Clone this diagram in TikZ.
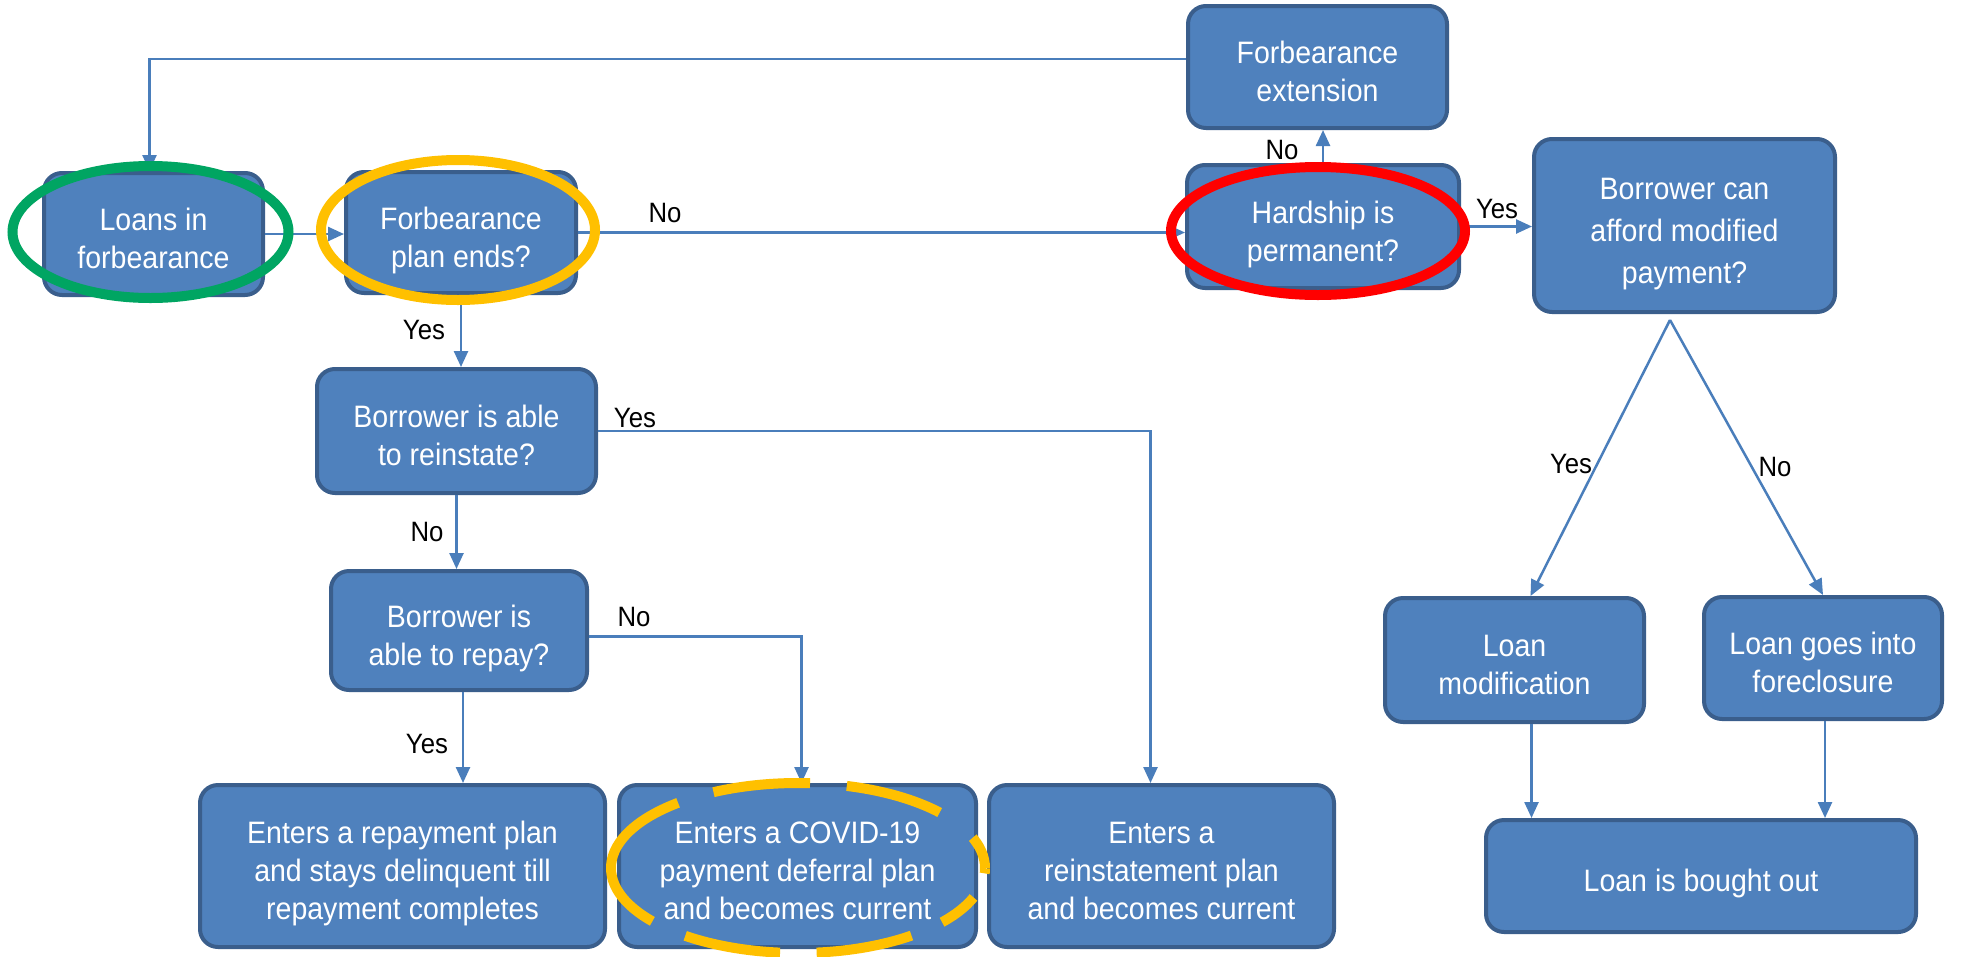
\documentclass[tikz,border=0pt]{standalone}
\usepackage{fontspec}
\setmainfont{Liberation Sans}[FakeStretch=0.92]
\usetikzlibrary{arrows.meta}
\definecolor{boxfill}{HTML}{4F81BD}
\definecolor{boxline}{HTML}{3A5E8C}
\definecolor{arrcol}{HTML}{4A7EBB}
\definecolor{hlgreen}{HTML}{00A562}
\definecolor{hlorange}{HTML}{FFC000}
\definecolor{hlred}{HTML}{FF0000}
\newcommand\TS{\rule{0pt}{38pt}}
\newcommand\BS{\rule[-7pt]{0pt}{7pt}}
\begin{document}
\begin{tikzpicture}[x=1pt,y=-1pt,
 box/.style={draw=boxline, line width=4pt, fill=boxfill, rounded corners=18pt, text=white, align=center, font=\fontsize{31}{38}\selectfont, inner sep=0pt},
 arr/.style={draw=arrcol, line width=2.5pt, -{Triangle[length=16pt,width=14pt]}},
 lbl/.style={font=\fontsize{28}{32}\selectfont, text=black, inner sep=0pt},
 hl/.style={line width=10pt}]
\useasboundingbox (0,0) rectangle (1967,956);
\fill[white] (0,0) rectangle (1967,956);
% boxes
\node[box, minimum width=219pt, minimum height=122pt] (loans) at (153.5,234) {\TS Loans in\\forbearance\BS};
\node[box, minimum width=230pt, minimum height=121pt] (plan) at (461,232.5) {\TS Forbearance\\plan ends?\BS};
\node[box, minimum width=259pt, minimum height=122pt] (ext) at (1317.5,67) {\TS Forbearance\\extension\BS};
\node[box, minimum width=272pt, minimum height=123pt] (hard) at (1323,226.5) {\TS Hardship is\\permanent?\BS};
\node[box, minimum width=301pt, minimum height=173pt] (afford) at (1684.5,225.5) {\TS Borrower can\\[4pt]afford modified\\[4pt]payment?\BS};
\node[box, minimum width=279pt, minimum height=124pt] (reinst) at (456.5,431) {\TS Borrower is able\\to reinstate?\BS};
\node[box, minimum width=256pt, minimum height=119pt] (repay) at (459,630.5) {\TS Borrower is\\able to repay?\BS};
\node[box, minimum width=405pt, minimum height=162pt] (b1) at (402.5,866) {\TS Enters a repayment plan\\and stays delinquent till\\repayment completes\BS};
\node[box, minimum width=357pt, minimum height=162pt] (b2) at (797.5,866) {\TS Enters a COVID-19\\payment deferral plan\\and becomes current\BS};
\node[box, minimum width=345pt, minimum height=162pt] (b3) at (1161.5,866) {\TS Enters a\\reinstatement plan\\and becomes current\BS};
\node[box, minimum width=259pt, minimum height=124pt] (mod) at (1514.5,660) {\TS Loan\\modification\BS};
\node[box, minimum width=238pt, minimum height=122pt] (fore) at (1823,658) {\TS Loan goes into\\foreclosure\BS};
\node[box, minimum width=430pt, minimum height=112pt] (out) at (1701,876) {\TS Loan is bought out\BS};
% connectors
\draw[arr] ([yshift=8pt]ext.west) -| ([xshift=-4pt]loans.north);
\draw[arr] (loans.east) -- (loans.east -| plan.west);
\draw[arr] (plan.east) -- (plan.east -| hard.west);
\node[lbl] (l1) at (665,213) {No};
\draw[arr] (hard.north) -- (hard.north |- ext.south);
\node[lbl] (l2) at (1282,150) {No};
\draw[arr] (hard.east) -- (hard.east -| afford.west);
\node[lbl] (l3) at (1497,209) {Yes};
\draw[arr] (plan.south) -- (plan.south |- reinst.north);
\node[lbl] (l4) at (424,330) {Yes};
\draw[arr] (reinst.south) -- (reinst.south |- repay.north);
\node[lbl] (l5) at (427,532) {No};
\draw[arr] (reinst.east) -| ([xshift=-11pt]b3.north);
\node[lbl] (l6) at (635,418) {Yes};
\draw[arr] ([yshift=-6pt]repay.east) -| ([xshift=4pt]b2.north);
\node[lbl] (l7) at (634,617) {No};
\draw[arr] ([xshift=4pt]repay.south) -- ([xshift=4pt]repay.south |- b1.north);
\node[lbl] (l8) at (427,744) {Yes};
\coordinate (apex) at (1670,320);
\draw[arr] (apex) -- ([xshift=16pt]mod.north);
\draw[arr] (apex) -- (fore.north);
\node[lbl] (l9) at (1571,464) {Yes};
\node[lbl] (l10) at (1775,467) {No};
\draw[arr] ([xshift=17pt]mod.south) -- ([xshift=17pt]mod.south |- out.north);
\draw[arr] ([xshift=2pt]fore.south) -- ([xshift=2pt]fore.south |- out.north);
% highlights
\draw[hlgreen, hl] (150.5,232) ellipse [x radius=138pt, y radius=66pt];
\draw[hlorange, hl] (458,230) ellipse [x radius=137pt, y radius=70pt];
\draw[hlred, hl] (1318,231) ellipse [x radius=147pt, y radius=64pt];
\draw[hlorange, hl, dash pattern=on 33.4pt off 41.8pt on 97.1pt off 36.9pt on 97.2pt off 37pt on 169.7pt off 36pt on 96.6pt off 36.6pt on 96.7pt off 33.4pt on 40.3pt off 26.8pt on 5.2pt off 300pt] (798,868) ellipse [x radius=187pt, y radius=85pt];
\end{tikzpicture}
\end{document}
